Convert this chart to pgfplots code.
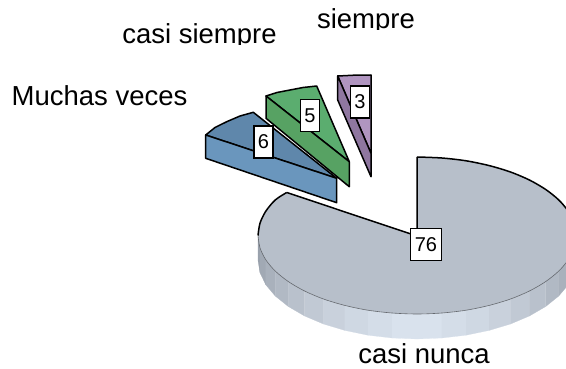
\documentclass[border=0pt]{standalone}
\usepackage{pgfplots}
\pgfplotsset{compat=1.18}
\usepackage{fontspec}
\setmainfont{Liberation Sans}
\definecolor{pietop}{HTML}{B7BFCA}
\definecolor{sa}{HTML}{99A1AC}
\definecolor{sb}{HTML}{A1A9B4}
\definecolor{sc}{HTML}{A9B1BC}
\definecolor{sd}{HTML}{B1B9C4}
\definecolor{se}{HTML}{B9C1CC}
\definecolor{sf}{HTML}{C1C9D4}
\definecolor{sg}{HTML}{C9D1DC}
\definecolor{sh}{HTML}{CFD8E3}
\definecolor{si}{HTML}{D4DDE8}
\definecolor{sj}{HTML}{D9E2ED}
\definecolor{bluetop}{HTML}{5F87AB}
\definecolor{bluefront}{HTML}{6A96BD}
\definecolor{greentop}{HTML}{5BAD6F}
\definecolor{greenfront}{HTML}{57A263}
\definecolor{purtop}{HTML}{B095C0}
\definecolor{purfront}{HTML}{8F77A0}
\tikzset{
  lab/.style={font=\fontsize{27.5}{32}\selectfont,text=black,inner sep=0pt},
  box/.style={draw=black,line width=1.4pt,fill=white,font=\fontsize{20}{24}\selectfont,inner sep=0pt,text=black}}
\begin{document}
\begin{tikzpicture}[x=1pt,y=1pt]
\useasboundingbox (0,0) rectangle (566,369);
\begin{axis}[at={(0,0)},anchor=south west,scale only axis,width=566pt,height=369pt,
  xmin=0,xmax=566,ymin=0,ymax=369,y dir=reverse,axis lines=none,
  clip=true,
  every axis plot/.append style={line join=round}]
% pie wall bands, left to right
\addplot[fill=sa,draw=sa,line width=.2pt] coordinates {(258,235.5)(260,247.8)(260,272.8)(258,260.5)} -- cycle;
\addplot[fill=sb,draw=sb,line width=.2pt] coordinates {(260,247.8)(265.8,259.8)(265.8,284.8)(260,272.8)} -- cycle;
\addplot[fill=sc,draw=sc,line width=.2pt] coordinates {(265.8,259.8)(275.3,271.1)(275.3,296.1)(265.8,284.8)} -- cycle;
\addplot[fill=sd,draw=sd,line width=.2pt] coordinates {(275.3,271.1)(288.4,281.6)(288.4,306.6)(275.3,296.1)} -- cycle;
\addplot[fill=se,draw=se,line width=.2pt] coordinates {(288.4,281.6)(304.6,291)(304.6,316)(288.4,306.6)} -- cycle;
\addplot[fill=sf,draw=sf,line width=.2pt] coordinates {(304.6,291)(323.5,299)(323.5,324)(304.6,316)} -- cycle;
\addplot[fill=sg,draw=sg,line width=.2pt] coordinates {(323.5,299)(344.8,305.4)(344.8,330.4)(323.5,324)} -- cycle;
\addplot[fill=sh,draw=sh,line width=.2pt] coordinates {(344.8,305.4)(367.9,310.2)(367.9,335.2)(344.8,330.4)} -- cycle;
\addplot[fill=si,draw=si,line width=.2pt] coordinates {(367.9,310.2)(392.1,313)(392.1,338)(367.9,335.2)} -- cycle;
\addplot[fill=sj,draw=sj,line width=.2pt] coordinates {(392.1,313)(417,314)(417,339)(392.1,338)} -- cycle;
\addplot[fill=sj,draw=sj,line width=.2pt] coordinates {(417,314)(441.9,313)(441.9,338)(417,339)} -- cycle;
\addplot[fill=si,draw=si,line width=.2pt] coordinates {(441.9,313)(466.1,310.2)(466.1,335.2)(441.9,338)} -- cycle;
\addplot[fill=sh,draw=sh,line width=.2pt] coordinates {(466.1,310.2)(489.2,305.4)(489.2,330.4)(466.1,335.2)} -- cycle;
\addplot[fill=sg,draw=sg,line width=.2pt] coordinates {(489.2,305.4)(510.5,299)(510.5,324)(489.2,330.4)} -- cycle;
\addplot[fill=sf,draw=sf,line width=.2pt] coordinates {(510.5,299)(529.4,291)(529.4,316)(510.5,324)} -- cycle;
\addplot[fill=se,draw=se,line width=.2pt] coordinates {(529.4,291)(545.6,281.6)(545.6,306.6)(529.4,316)} -- cycle;
\addplot[fill=sd,draw=sd,line width=.2pt] coordinates {(545.6,281.6)(558.7,271.1)(558.7,296.1)(545.6,306.6)} -- cycle;
\addplot[fill=sc,draw=sc,line width=.2pt] coordinates {(558.7,271.1)(568.2,259.8)(568.2,284.8)(558.7,296.1)} -- cycle;
% pie top
\addplot[fill=pietop,draw=none] coordinates {(417,236)(417,157)(441.9,158)(466.1,160.8)(489.2,165.6)(510.5,172)(529.4,180)(545.6,189.4)(558.7,199.9)(568.2,211.2)(574,223.2)(576,235.5)(574,247.8)(568.2,259.8)(558.7,271.1)(545.6,281.6)(529.4,291)(510.5,299)(489.2,305.4)(466.1,310.2)(441.9,313)(417,314)(392.1,313)(367.9,310.2)(344.8,305.4)(323.5,299)(304.6,291)(288.4,281.6)(275.3,271.1)(265.8,259.8)(260,247.8)(258,235.5)(260,223.2)(265.8,211.2)(275.3,199.9)(286.7,192)} -- cycle;
% thin front rim of the pie top
\addplot[smooth,draw=black!45!pietop,line width=.6pt] coordinates {(258,235.5)(260,247.8)(265.8,259.8)(275.3,271.1)(288.4,281.6)(304.6,291)(323.5,299)(344.8,305.4)(367.9,310.2)(392.1,313)(417,314)(441.9,313)(466.1,310.2)(489.2,305.4)(510.5,299)(529.4,291)(545.6,281.6)(558.7,271.1)(568.2,259.8)(574,247.8)(576,235.5)};
% black outline
\addplot[smooth,draw=black,line width=1.5pt] coordinates {(417,157)(441.9,158)(466.1,160.8)(489.2,165.6)(510.5,172)(529.4,180)(545.6,189.4)(558.7,199.9)(568.2,211.2)(574,223.2)(576,235.5)};
\addplot[smooth,draw=black,line width=1.5pt] coordinates {(258,235.5)(260,223.2)(265.8,211.2)(275.3,199.9)(286.7,192.5)};
\addplot[draw=black,line width=1.5pt] coordinates {(286.7,192.5)(417,236)(417,157)};
% blue slice
\addplot[fill=bluetop,draw=black,line width=1.5pt] coordinates {(336.7,178.3)(253.3,112.3)(240,116)(226.7,121.7)(215,127.5)(205.7,135)} -- cycle;
\addplot[fill=bluefront,draw=black,line width=1.5pt] coordinates {(205.7,135)(336.7,178.3)(336.7,202.7)(205.7,158.3)} -- cycle;
% green slice
\addplot[fill=greentop,draw=black,line width=1.5pt] coordinates {(349.3,161.7)(316.7,86)(303,87.5)(290,90)(277,92.5)(266,96)} -- cycle;
\addplot[fill=greenfront,draw=black,line width=1.5pt] coordinates {(266,96)(349.3,161.7)(349.3,186.7)(266,118.3)} -- cycle;
% purple slice
\addplot[fill=purtop,draw=black,line width=1.5pt] coordinates {(371,153.3)(371,75)(354,75.2)(337.7,76)} -- cycle;
\addplot[fill=purfront,draw=black,line width=1.5pt] coordinates {(337.7,76)(371,153.3)(371,176.7)(337.7,100)} -- cycle;
% value boxes
\node[box,minimum width=31pt,minimum height=32pt] at (axis cs:426,244.5) {76};
\node[box,minimum width=19pt,minimum height=32pt] at (axis cs:263.5,142) {6};
\node[box,minimum width=19pt,minimum height=32pt] at (axis cs:310,115.5) {5};
\node[box,minimum width=19pt,minimum height=32pt] at (axis cs:360,102) {3};
% category names
\node[lab] at (axis cs:99.5,96) {Muchas veces};
\node[lab] at (axis cs:199.5,36) {casi siempre};
\node[lab] at (axis cs:366,21) {siempre};
\node[lab] at (axis cs:424,353.5) {casi nunca};
% the descenders are cut off in the reference
\fill[white] (axis cs:115,45) rectangle (axis cs:285,56);
\fill[white] (axis cs:310,30.5) rectangle (axis cs:420,42);
\end{axis}
\end{tikzpicture}
\end{document}
